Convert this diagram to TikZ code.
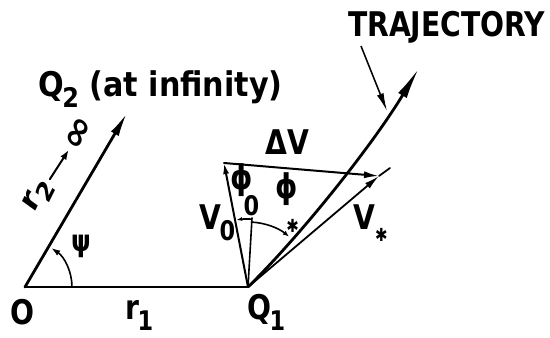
\documentclass[tikz,border=0pt]{standalone}
\usepackage{fontspec}
\setmainfont{DejaVu Sans}
\usetikzlibrary{arrows.meta,calc}
\newcommand\lett{\fontsize{34}{38}\selectfont\bfseries}
\newcommand\mysub[2][-0.3em]{\raisebox{#1}{\fontsize{27}{30}\selectfont #2}}
\newcommand\mystar[1][-0.35em]{\raisebox{#1}{\fontsize{18}{20}\selectfont ✱}}
\tikzset{
  lab/.style={font=\lett, inner sep=0pt, xscale=0.83},
  thickline/.style={line width=2.8pt, line cap=round},
  medline/.style={line width=2pt, line cap=round},
  thinline/.style={line width=1.6pt, line cap=round},
}
\begin{document}
\begin{tikzpicture}[x=1pt,y=1pt]
\useasboundingbox (0,0) rectangle (550,338);
% points
\coordinate (O) at (25,51);
\coordinate (Q1) at (248,51);
\coordinate (R2) at (127,225);
\coordinate (V0) at (224,175);
\coordinate (VS) at (379,162);
\coordinate (VE) at (390,170);
\coordinate (VR) at (252,120);
\coordinate (T) at (419,270);
\coordinate (tp) at (361,292);
\coordinate (tq) at (387,227);
% triangle O - infinity
\draw[thickline] (O) -- (Q1);
\draw[thickline, -{Latex[length=24pt,width=9pt]}] (O) -- (R2);
\draw[thinline, -{Latex[length=9pt,width=6pt]}] (72,51) arc (0:56:47);
% velocity triangle
\draw[medline, -{Latex[length=11pt,width=6pt]}] (Q1) -- (V0);
\draw[medline, -{Latex[length=15pt,width=7pt]}] (V0) -- (VS);
\draw[thinline, line width=1.8pt, -{Latex[length=15pt,width=7pt]}] (Q1) -- (VS);
\draw[thinline, line width=1.8pt] (VS) -- (VE);
\draw[thinline] (Q1) -- (VR);
% angle arcs
\draw[thinline, -{Latex[length=6pt,width=4pt]}] ($(Q1)+(87:68)$) arc (87:100:68);
\draw[thinline, -{Latex[length=6pt,width=5pt]}] ($(Q1)+(87:65)$) arc (87:51:65);
% trajectory
\draw[thickline, -{Latex[length=32pt,width=10pt]}] (Q1) .. controls (300,102) and (372,192) .. (T);
\draw[line width=1.5pt, -{Latex[length=18pt,width=7pt]}] (tp) -- (tq);
% labels
\node[lab, anchor=base west] (lO) at (10,13) {O};
\node[lab, anchor=base west] (lr1) at (125,18) {r\kern-0.05em\mysub{1}};
\node[lab, anchor=base west] (lQ1) at (247,18) {Q\kern-0.05em\mysub{1}};
\node[lab, font=\fontsize{30}{34}\selectfont\bfseries] (lpsi) at (81,92) {ψ};
\node[lab, rotate=59] (lr2) at (39,142) {r\mysub{2}};
\node[lab, rotate=59, font=\fontsize{42}{46}\selectfont\bfseries] (linf) at (79,204) {∞};
\draw[medline, -{Latex[length=10pt,width=7pt]}, shorten <=3pt, shorten >=2pt] (lr2) -- (linf);
\node[lab, xscale=1.07, anchor=base west] (lQ2) at (38,241) {Q\kern-0.05em\mysub{2} (at infinity)};
\node[lab, anchor=base west] (lV0) at (199,108) {V\kern-0.05em\mysub{0}};
\node[lab, anchor=base west] (lDV) at (265,183) {ΔV};
\node[lab, anchor=base west] (lVS) at (353,108) {V\mystar};
\node[lab] (lphi0) at (245,148) {ϕ\kern-0.35em\mysub[-0.75em]{0}};
\node[lab] (lphis) at (287,135) {ϕ\kern-0.4em\mystar[-1.0em]};
\node[lab, anchor=base west] (lTR) at (348,301) {TRAJECTORY};
\end{tikzpicture}
\end{document}
